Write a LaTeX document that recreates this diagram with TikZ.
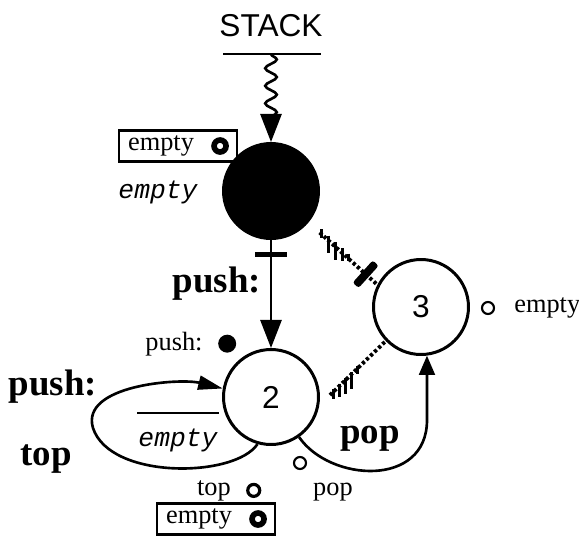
\documentclass[tikz,border=0pt]{standalone}
\usepackage{fontspec}
\setmainfont{Liberation Serif}
\setsansfont{Liberation Sans}
\setmonofont{Liberation Mono}
\usepackage{tikz}
\usetikzlibrary{arrows.meta,positioning,calc,fit,decorations.pathmorphing}

\begin{document}
\begin{tikzpicture}[x=0.02cm, y=-0.02cm, line width=1.5pt, every node/.style={inner sep=0pt},
				state/.style={circle, draw, line width=1.7pt, minimum size=1.9cm, font=\sffamily\fontsize{18}{20}\selectfont},
				boldlbl/.style={anchor=base, font=\bfseries\fontsize{21}{24}\selectfont},
				plainlbl/.style={anchor=base, font=\fontsize{15}{17}\selectfont},
				boxtext/.style={font=\fontsize{15}{17}\selectfont},
				cond/.style={font=\ttfamily\itshape\fontsize{15}{17}\selectfont},
				bull/.style={circle, draw, line width=3.2pt, minimum size=0.24cm},
				ringmark/.style={circle, draw, line width=1.2pt, minimum size=0.24cm},
				dotmark/.style={circle, fill, minimum size=0.36cm},
				boxframe/.style={draw, line width=1.3pt, inner xsep=0.16cm, inner ysep=0.08cm},
				tbar/.style={fill, minimum width=0.64cm, minimum height=0.1cm},
				blockbar/.style={fill, minimum width=0.16cm, minimum height=0.6cm, rounded corners=1.5pt},
				hatched/.style={line width=2.2pt, dash pattern=on 1.8pt off 1.4pt},
				stripe/.style={line width=1.8pt},
				bigarrow/.style={-{Triangle[length=16pt,width=12pt]}},
				looparrow/.style={-{Triangle[length=14pt,width=8pt]}},
				poparrow/.style={-{Triangle[length=11pt,width=9pt]}}]
				\useasboundingbox (0,0) rectangle (579,538);
				\node[anchor=base, font=\sffamily\fontsize{18}{20}\selectfont] (stack) at (271,36) {STACK};
				\coordinate (src) at (271,54);
				\draw[line width=1.4pt] (223,54) -- (321,54);
				\node[state, fill] (blk) at (271,191) {};
				\node[state] (s2) at (271,397) {2};
				\node[state] (s3) at (421,307) {3};
				\node[boxtext] (e1) at (161,146) {empty};
				\node[bull, right=0.32cm of e1] (b1) {};
				\node[boxframe, fit=(e1)(b1)] (box1) {};
				\node[cond] (c1) at (158,192) {empty};
				\draw[bigarrow, decorate, decoration={snake, amplitude=3.3pt, segment length=10pt, post length=6pt}] (src) -- (blk);
				\draw[bigarrow] (blk) -- node[pos=0.135, tbar] {} (s2);
				\node[boldlbl] (lpush) at (217,292) {push:};
				\node[plainlbl] (spush) at (174,350) {push:};
				\node[dotmark, right=0.26cm of spush] (d1) {};
				\node[boldlbl] (lpush2) at (53,395) {push:};
				\node[boldlbl] (ltop) at (46,465) {top};
				\draw[looparrow] (s2.254) .. controls (235,478) and (110,480) .. (93,428) .. controls (80,385) and (180,378) .. (s2.170);
				\node[cond] (c2) at (178,440) {empty};
				\draw[line width=1pt] ($(c2.north west)+(0,-14)$) -- ($(c2.north east)+(0,-14)$);
				\draw[poparrow] (s2.-55) .. controls (330,482) and (427,488) .. (427,420) -- (s3.-83);
				\node[boldlbl] (lpop) at (370,443) {pop};
				\node[ringmark] (r1) at (300,463) {};
				\node[plainlbl] (spop) at (333,495) {pop};
				\node[plainlbl] (stop) at (214,495) {top};
				\node[ringmark, line width=1.8pt, right=0.28cm of stop] (r2) {};
				\node[boxtext] (e2) at (199,519) {empty};
				\node[bull, right=0.32cm of e2] (b2) {};
				\node[boxframe, fit=(e2)(b2)] (box2) {};
				\node[ringmark] (r3) at (488,308) {};
				\node[plainlbl, anchor=base west] (sempty) at (513,312) {empty};
				\draw[hatched, shorten <=0.3cm] (blk.-40) -- node[pos=0.83, sloped, blockbar] {} (s3.153);
				\foreach \f/\h in {0.19/9,0.29/17,0.39/18,0.49/13,0.58/7}
					\draw[stripe] ($(blk.-40)!\f!(s3.153)$) ++(0,-5) -- ++(0,\h);
				\draw[hatched, shorten <=0.3cm] (s2.-10) -- (s3.224);
				\foreach \f/\h in {0.22/10,0.31/13,0.40/16,0.49/17,0.58/8}
					\draw[stripe] ($(s2.-10)!\f!(s3.224)$) ++(0,-2) -- ++(0,\h);
			\end{tikzpicture}
\end{document}
